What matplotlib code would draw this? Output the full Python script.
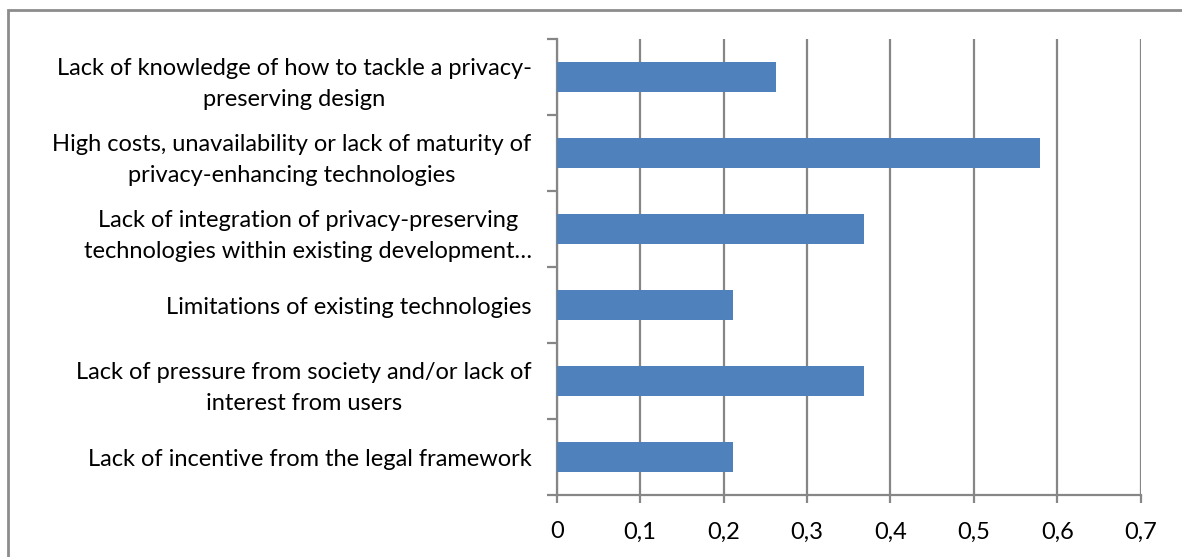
import matplotlib
matplotlib.use("Agg")
import matplotlib.pyplot as plt
from matplotlib.patches import Rectangle

categories = [
    "Lack of knowledge of how to tackle a privacy-\npreserving design",
    "High costs, unavailability or lack of maturity of\nprivacy-enhancing technologies",
    "Lack of integration of privacy-preserving\ntechnologies within existing development\u2026",
    "Limitations of existing technologies",
    "Lack of pressure from society and/or lack of\ninterest from users",
    "Lack of incentive from the legal framework",
]
values = [0.263, 0.579, 0.368, 0.211, 0.368, 0.211]
xticks = [0, 0.1, 0.2, 0.3, 0.4, 0.5, 0.6, 0.7]
xtick_labels = ["0", "0,1", "0,2", "0,3", "0,4", "0,5", "0,6", "0,7"]

plt.rcParams['font.family'] = ['Lato', 'DejaVu Sans']
W, H = 1182, 557
fig = plt.figure(figsize=(W / 100, H / 100), dpi=100)
ax = fig.add_axes([556.7 / W, 1 - 495 / H, (1140.7 - 556.7) / W, (495 - 39) / H])

gray = "#868686"
n = len(categories)
ypos = list(range(n))[::-1]
ax.barh(ypos, values, height=0.4, color="#4F81BD", zorder=3)
ax.set_ylim(-0.5, n - 0.5)
ax.set_xlim(0, 0.7)

ax.set_xticks(xticks)
ax.set_xticklabels(xtick_labels, fontsize=17)
ax.set_yticks(ypos)
ax.set_yticklabels(categories, fontsize=17, multialignment="center", linespacing=1.6)
ax.set_yticks([i - 0.5 for i in range(n + 1)], minor=True)
ax.tick_params(axis="y", which="major", length=0, pad=18)
ax.tick_params(axis="y", which="minor", length=7, width=1.6, color=gray)
ax.tick_params(axis="x", which="major", length=6, width=1.6, color=gray, pad=13, direction="out")

ax.grid(axis="x", color=gray, linewidth=1.6, zorder=0)
for s in ["top", "right"]:
    ax.spines[s].set_visible(False)
for s in ["left", "bottom"]:
    ax.spines[s].set_color(gray)
    ax.spines[s].set_linewidth(1.6)

fig.patches.append(Rectangle((8 / W, -0.1), 1.2, 1 - 10 / H + 0.1, transform=fig.transFigure,
                             fill=False, edgecolor="#8C8C8C", linewidth=2))

fig.savefig("out.png", dpi=100)
